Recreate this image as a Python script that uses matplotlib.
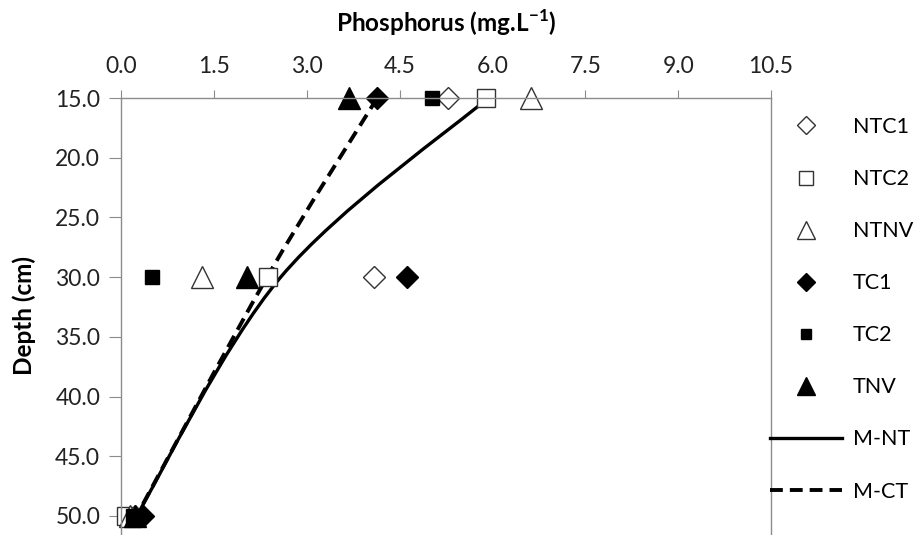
import numpy as np
import matplotlib
matplotlib.use('Agg')
import matplotlib.pyplot as plt
from matplotlib.path import Path
from matplotlib.patches import PathPatch
from matplotlib.lines import Line2D

# --- Data ---
depth = [15.0, 30.0, 50.0]
ntc1 = [5.28, 4.09, 0.22]
ntc2 = [5.90, 2.37, 0.08]
ntnv = [6.62, 1.31, 0.15]
tc1 = [4.14, 4.62, 0.35]
tc2 = [5.02, 0.50, 0.20]
tnv = [3.68, 2.04, 0.22]
m_nt = [5.93, 2.58, 0.25]
m_ct = [4.14, 2.36, 0.25]

x_ticks = [0.0, 1.5, 3.0, 4.5, 6.0, 7.5, 9.0, 10.5]
y_ticks = [15.0, 20.0, 25.0, 30.0, 35.0, 40.0, 45.0, 50.0]

plt.rcParams['font.family'] = ['Lato', 'DejaVu Sans']
plt.rcParams['mathtext.fontset'] = 'custom'
plt.rcParams['mathtext.rm'] = 'Lato'
plt.rcParams['mathtext.bf'] = 'Lato:bold'

GREY = '#8c8c8c'
DASH = (0, (3.3, 1.8))


def smooth_path(xs, ys):
    """Excel-like smoothed line: Catmull-Rom style cubic Bezier through the points."""
    pts = np.column_stack([xs, ys]).astype(float)
    n = len(pts)
    verts = [pts[0]]
    codes = [Path.MOVETO]
    for i in range(n - 1):
        p_prev = pts[i - 1] if i > 0 else pts[i]
        p_next = pts[i + 2] if i + 2 < n else pts[i + 1]
        c1 = pts[i] + (pts[i + 1] - p_prev) / 6.0
        c2 = pts[i + 1] - (p_next - pts[i]) / 6.0
        verts += [c1, c2, pts[i + 1]]
        codes += [Path.CURVE4] * 3
    return Path(verts, codes)


fig = plt.figure(figsize=(9.17, 5.35), dpi=100)
ax = fig.add_axes([121 / 917, 0.0, 650 / 917, 437 / 535])

open_kw = dict(linestyle='none', markerfacecolor='white', markeredgecolor='#333333',
               markeredgewidth=1.0, clip_on=False)
fill_kw = dict(linestyle='none', color='black', clip_on=False)

ax.plot(ntc1, depth, marker='D', markersize=11, label='NTC1', **open_kw)
ax.plot(ntc2, depth, marker='s', markersize=13, label='NTC2', **open_kw)
ax.plot(ntnv, depth, marker='^', markersize=16, label='NTNV', **open_kw)
ax.plot(tc1, depth, marker='D', markersize=11, label='TC1', **fill_kw)
ax.plot(tc2, depth, marker='s', markersize=9.5, label='TC2', **fill_kw)
ax.plot(tnv, depth, marker='^', markersize=16, label='TNV', **fill_kw)

ax.add_patch(PathPatch(smooth_path(m_nt, depth), fill=False, edgecolor='black',
                       linewidth=2.4, capstyle='butt'))
ax.add_patch(PathPatch(smooth_path(m_ct, depth), fill=False, edgecolor='black',
                       linewidth=2.8, linestyle=DASH, capstyle='butt'))

ax.set_xlim(0, 10.5)
ax.set_ylim(50 + 19 / 11.94, 15)
ax.xaxis.tick_top()
ax.xaxis.set_label_position('top')
ax.set_xticks(x_ticks)
ax.set_xticklabels([f'{v:.1f}' for v in x_ticks])
ax.set_yticks(y_ticks)
ax.set_yticklabels([f'{v:.1f}' for v in y_ticks])
ax.tick_params(axis='both', direction='out', color=GREY, labelsize=16.5, labelcolor='#222222')
ax.tick_params(axis='x', length=6, pad=9)
ax.tick_params(axis='y', length=9, pad=6)

for side in ['top', 'left', 'right']:
    ax.spines[side].set_color(GREY)
    ax.spines[side].set_linewidth(1.0)
ax.spines['bottom'].set_visible(False)

ax.set_xlabel(r'Phosphorus (mg.L$^{\mathregular{-1}}$)', fontsize=17.5, fontweight='bold')
ax.xaxis.set_label_coords(0.5, 1.15)
ax.set_ylabel('Depth (cm)', fontsize=17.5, fontweight='bold')
ax.yaxis.set_label_coords(-0.131, 0.503)

handles, labels = ax.get_legend_handles_labels()
handles += [Line2D([], [], color='black', linewidth=2.4),
            Line2D([], [], color='black', linewidth=2.8, linestyle=DASH)]
labels += ['M-NT', 'M-CT']
leg = fig.legend(handles, labels, loc='upper left', bbox_to_anchor=(770 / 917, 1 - 117 / 535),
                 frameon=False, fontsize=15.5, markerscale=0.8, handlelength=3.35,
                 handletextpad=0.5, labelspacing=1.49, borderaxespad=0, borderpad=0)

fig.savefig('out.png', dpi=100)
